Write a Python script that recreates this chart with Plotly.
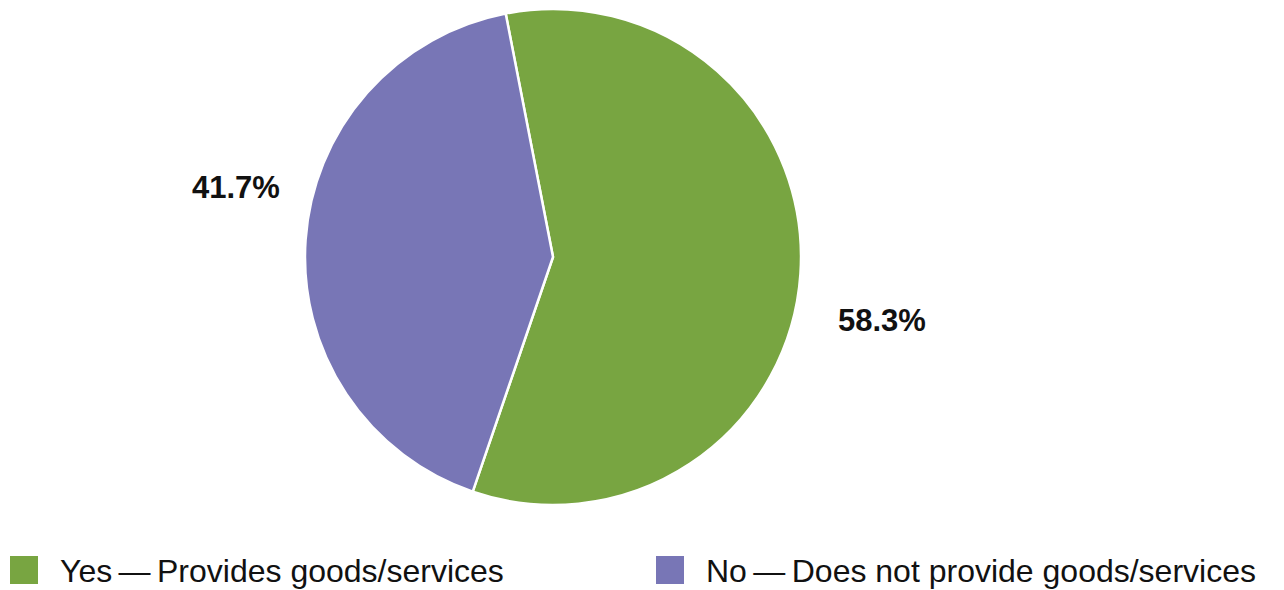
import plotly.graph_objects as go

# Share of respondents by whether they provide goods/services
labels = ["Yes\u2009\u2014\u2009Provides goods/services", "No\u2009\u2014\u2009Does not provide goods/services"]
values = [58.3, 41.7]
colors = ["#78a541", "#7876b6"]

W, H = 1284, 590
FONT = "Liberation Sans, Arial, Helvetica, sans-serif"

fig = go.Figure(
    go.Pie(
        labels=labels,
        values=values,
        sort=False,
        direction="clockwise",
        rotation=-11,
        marker=dict(colors=colors, line=dict(color="white", width=2.5)),
        textinfo="none",
        hoverinfo="label+percent",
        showlegend=False,
        domain=dict(x=[305 / W, 801 / W], y=[1 - 505 / H, 1 - 9 / H]),
    )
)

# Percentage labels beside each slice
label_pos = [(882 / W, 1 - 320 / H), (236 / W, 1 - 187 / H)]
for v, (x, y) in zip(values, label_pos):
    fig.add_annotation(
        x=x, y=y, xref="paper", yref="paper", text=f"<b>{v:.1f}%</b>",
        showarrow=False, font=dict(family=FONT, size=31, color="#111111"),
        xanchor="center", yanchor="middle",
    )

# Legend drawn as swatches and text along the bottom
legend_x = [10, 656]
sw = 28
y_mid = 570
for (lx, lab, col) in zip(legend_x, labels, colors):
    fig.add_shape(
        type="rect", xref="paper", yref="paper",
        x0=lx / W, x1=(lx + sw) / W, y0=1 - (y_mid + sw / 2) / H, y1=1 - (y_mid - sw / 2) / H,
        fillcolor=col, line=dict(width=0),
    )
    fig.add_annotation(
        x=(lx + sw + 20) / W, y=1 - (y_mid + 1) / H, xref="paper", yref="paper", text=lab,
        showarrow=False, font=dict(family=FONT, size=32, color="#111111"),
        xanchor="left", yanchor="middle",
    )

fig.update_layout(
    width=W, height=H,
    margin=dict(l=0, r=0, t=0, b=0),
    paper_bgcolor="white", plot_bgcolor="white",
)

fig.write_html("out.html")
